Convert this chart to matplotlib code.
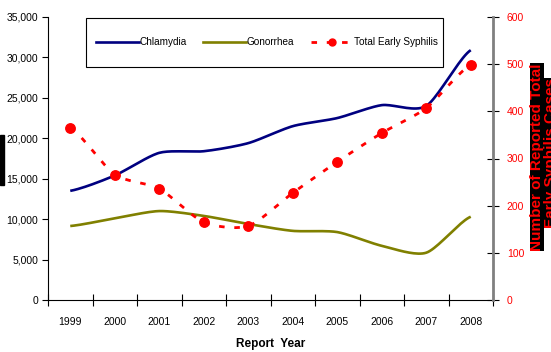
import matplotlib
matplotlib.use("Agg")
import matplotlib.pyplot as plt
from matplotlib.patches import Rectangle
from matplotlib.lines import Line2D
import numpy as np

plt.rcParams['font.family'] = ['Liberation Sans', 'DejaVu Sans']

years = ['1999', '2000', '2001', '2002', '2003', '2004', '2005', '2006', '2007', '2008']
chlamydia = [13500, 15400, 18200, 18400, 19400, 21500, 22500, 24100, 24000, 30900]
gonorrhea = [9150, 10100, 11000, 10400, 9400, 8550, 8400, 6700, 5850, 10300]
syphilis = [365, 266, 236, 165, 157, 227, 293, 354, 407, 498]


def smooth(xs, ys, n=20, k=0.75):
    # cardinal spline through the points, gives the smoothed-line look
    xs = np.asarray(xs, float)
    ys = np.asarray(ys, float)
    px = np.concatenate([[2 * xs[0] - xs[1]], xs, [2 * xs[-1] - xs[-2]]])
    py = np.concatenate([[ys[0]], ys, [ys[-1]]])
    t = np.linspace(0, 1, n, endpoint=False)
    h00 = 2 * t ** 3 - 3 * t ** 2 + 1
    h10 = t ** 3 - 2 * t ** 2 + t
    h01 = -2 * t ** 3 + 3 * t ** 2
    h11 = t ** 3 - t ** 2
    outx, outy = [], []
    for i in range(1, len(px) - 2):
        for arr, out in ((px, outx), (py, outy)):
            m1 = k * (arr[i + 1] - arr[i - 1]) / 2
            m2 = k * (arr[i + 2] - arr[i]) / 2
            out.extend(h00 * arr[i] + h10 * m1 + h01 * arr[i + 1] + h11 * m2)
    outx.append(xs[-1])
    outy.append(ys[-1])
    return np.array(outx), np.array(outy)


x = np.arange(len(years))

fig = plt.figure(figsize=(5.51, 3.52), dpi=100)
ax = fig.add_axes([48 / 551, 1 - 300 / 352, 445 / 551, 283 / 352])
ax2 = ax.twinx()

sx, sy = smooth(x, chlamydia)
ax.plot(sx, sy, color='#000080', lw=1.9, solid_capstyle='butt')
sx, sy = smooth(x, gonorrhea)
ax.plot(sx, sy, color='#808000', lw=1.9, solid_capstyle='butt')

sx, sy = smooth(x, syphilis)
ax2.plot(sx, sy, color='#ff0000', lw=2, ls=(0, (2, 3.5)))
ax2.plot(x, syphilis, 'o', color='#ff0000', ms=6.8, mec='#ff0000')

ax.set_xlim(-0.5, 9.5)
ax.set_ylim(0, 35000)
ax2.set_ylim(0, 600)
ax.set_yticks(range(0, 35001, 5000))
ax.set_yticklabels([f'{v:,}' for v in range(0, 35001, 5000)])
ax2.set_yticks(range(0, 601, 100))

ax.set_xticks(np.arange(-0.5, 10, 1))
ax.set_xticklabels([])
ax.set_xticks(x, minor=True)
ax.set_xticklabels(years, minor=True)
ax.tick_params(axis='x', which='major', direction='inout', length=8, width=0.8)
ax.tick_params(axis='x', which='minor', length=0, pad=12, labelsize=7.5)
ax.tick_params(axis='y', direction='out', length=4, width=0.8, labelsize=7.5, pad=3)
ax2.tick_params(axis='y', direction='inout', length=8, width=0.8, labelsize=7.5,
                labelcolor='#ff0000', pad=6)

for a in (ax, ax2):
    a.spines['top'].set_visible(False)
ax2.spines['left'].set_visible(False)
ax2.spines['bottom'].set_visible(False)
ax.spines['right'].set_visible(False)
ax2.spines['right'].set_color('#808080')
ax2.spines['right'].set_linewidth(2)
ax.spines['left'].set_linewidth(0.8)
ax.spines['bottom'].set_linewidth(0.8)

ax.set_xlabel('Report  Year', fontsize=8.5, fontweight='bold', labelpad=8)

handles = [
    Line2D([], [], color='#000080', lw=1.9),
    Line2D([], [], color='#808000', lw=1.9),
    Line2D([], [], color='#ff0000', lw=2, ls=(0, (2, 3.5)), marker='o', ms=5),
]
leg = fig.legend(handles, ['Chlamydia', 'Gonorrhea', 'Total Early Syphilis'],
                 loc='center left', bbox_to_anchor=(96 / 551, 1 - 42 / 352), ncol=3,
                 fontsize=7.2, frameon=False, handlelength=4.3,
                 handletextpad=0.05, columnspacing=1.65, borderpad=0,
                 borderaxespad=0)

# legend frame
fig.patches.append(Rectangle((86 / 551, 1 - 67 / 352), 357 / 551, 49 / 352,
                             transform=fig.transFigure, facecolor='none',
                             edgecolor='black', lw=0.8))

# rotated right-side label lines on black bands
fig.text(537 / 551, 1 - 157 / 352, 'Number of Reported Total', rotation=90,
         color='#ff0000', fontsize=11, fontweight='bold', ha='center', va='center',
         bbox=dict(facecolor='black', edgecolor='none', pad=0.3))
fig.text(551 / 551, 1 - 153 / 352, 'Early Syphilis Cases', rotation=90,
         color='#ff0000', fontsize=11, fontweight='bold', ha='center', va='center',
         bbox=dict(facecolor='black', edgecolor='none', pad=0.3))

fig.patches.append(Rectangle((0, 1 - 185 / 352), 3.5 / 551, 50 / 352,
                             transform=fig.transFigure, color='black'))

fig.savefig('out.png', dpi=100)
